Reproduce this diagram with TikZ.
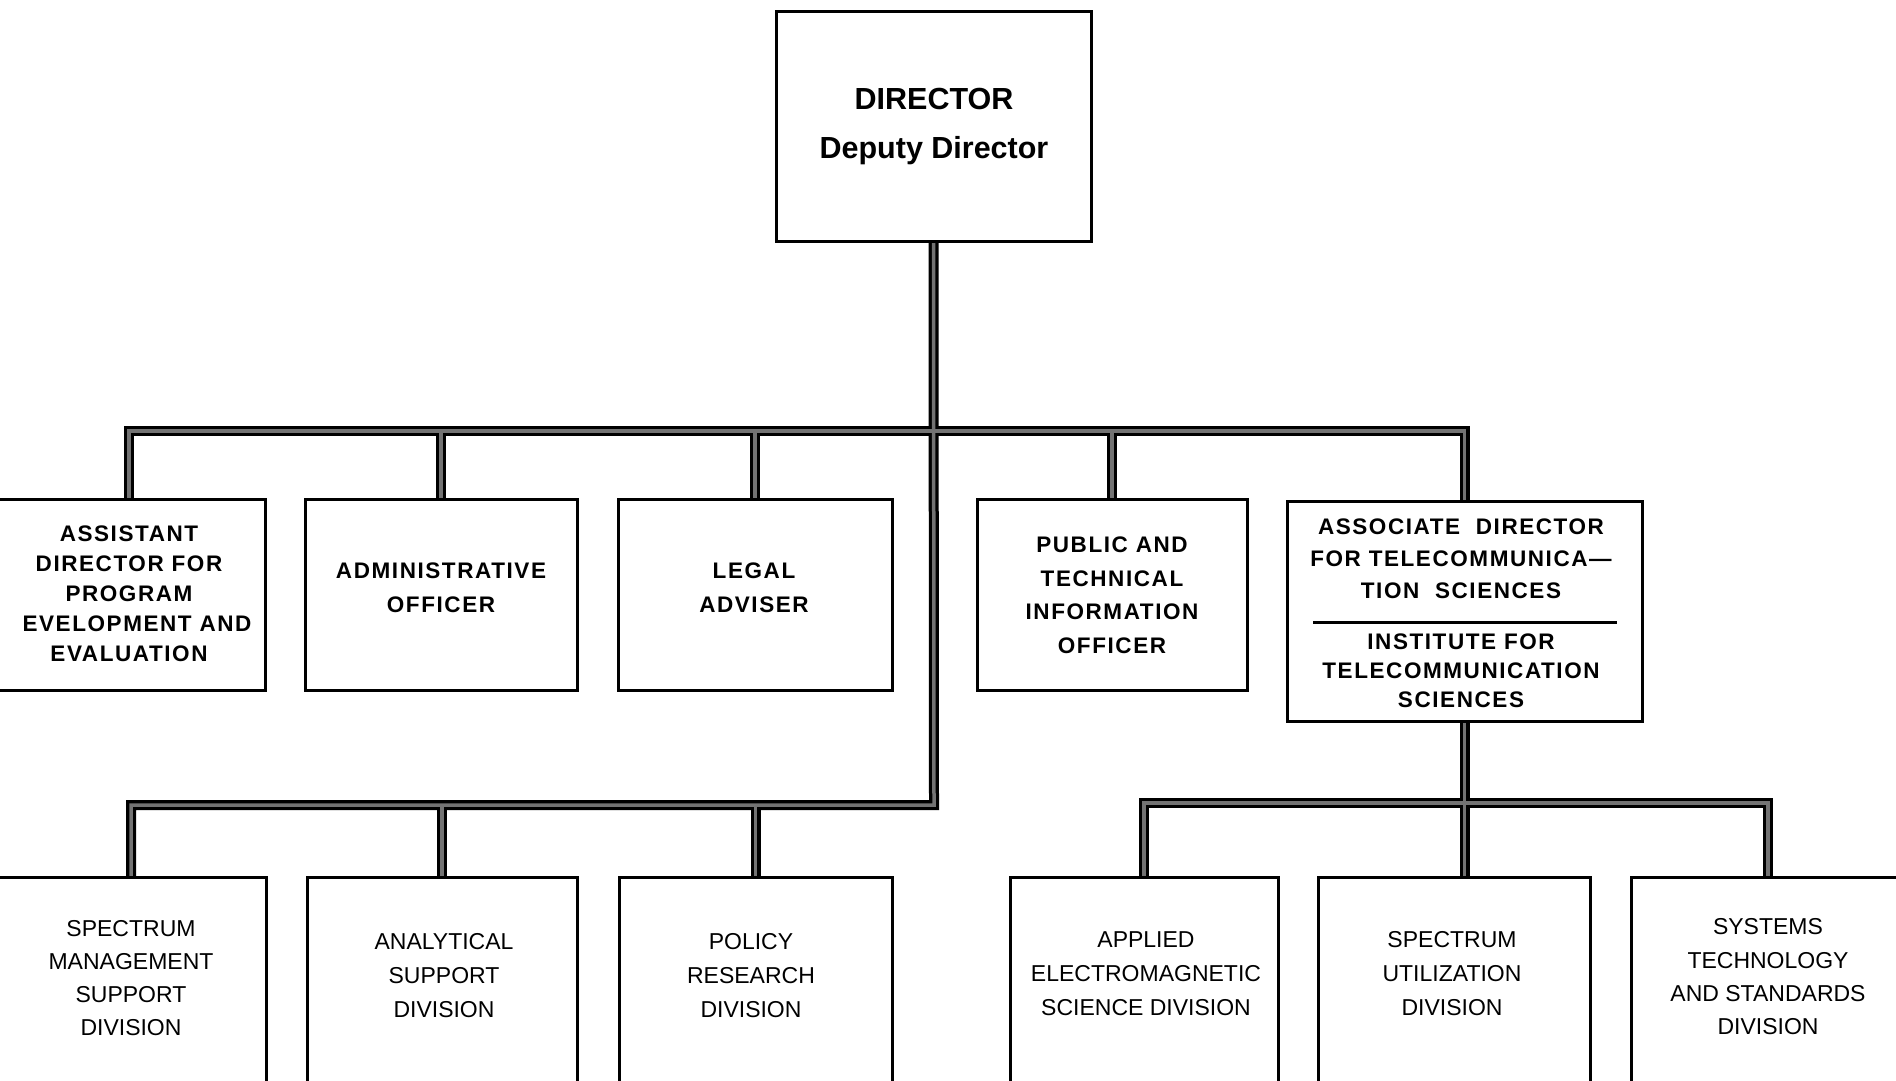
\documentclass[tikz,border=0pt]{standalone}
\usepackage{fontspec}
\setmainfont{Liberation Sans}
\newfontfamily\trackfont[LetterSpace=7]{Liberation Sans}
\usetikzlibrary{backgrounds,calc}

\tikzset{
  unit/.style={draw=black, line width=3pt, fill=white, inner sep=0pt, outer sep=0pt},
  headtext/.style={font=\bfseries\fontsize{30.5}{49}\selectfont, align=center, inner sep=0pt},
  officetext/.style={font=\trackfont\bfseries\fontsize{22.5}{#1}\selectfont, align=center, inner sep=0pt},
  officetext/.default=31,
  divtext/.style={font=\fontsize{23}{#1}\selectfont, align=center, inner sep=0pt},
  divtext/.default=33.5,
  linkouter/.style={line width=10pt, draw=black, line join=miter},
  linkinner/.style={line width=3.5pt, draw=black!55, line join=miter},
}

\begin{document}
\begin{tikzpicture}[x=1pt, y=-1pt]
\useasboundingbox (0,0) rectangle (1896,1081);

% director
\node[unit, minimum width=315pt, minimum height=229pt] (dir) at (933.5,126.5) {};
\node[headtext] (dirtxt) at (934,127) {DIRECTOR\\Deputy Director};

% staff offices
\node[unit, minimum width=272pt, minimum height=191pt] (asst) at (129,594.5) {};
\node[officetext=30] (assttxt) at (129,593.5) {ASSISTANT\\DIRECTOR FOR\\PROGRAM\\\hspace*{16pt}EVELOPMENT AND\\EVALUATION};

\node[unit, minimum width=272pt, minimum height=191pt] (adm) at (441,594.5) {};
\node[officetext=34] (admtxt) at (441,588) {ADMINISTRATIVE\\OFFICER};

\node[unit, minimum width=274pt, minimum height=191pt] (legal) at (755,594.5) {};
\node[officetext=34] (legaltxt) at (754,588) {LEGAL\\ADVISER};

\node[unit, minimum width=270pt, minimum height=191pt] (pub) at (1112,594.5) {};
\node[officetext=33.5] (pubtxt) at (1112,595) {PUBLIC AND\\TECHNICAL\\INFORMATION\\OFFICER};

\node[unit, minimum width=355pt, minimum height=220pt] (assoc) at (1464.5,611) {};
\node[officetext=32] (assoctop) at (1461,559) {ASSOCIATE\ \ DIRECTOR\\FOR TELECOMMUNICA—\\TION\ \ SCIENCES};
\node[officetext=29] (assocbot) at (1461,671) {INSTITUTE FOR\\TELECOMMUNICATION\\SCIENCES};
\draw[line width=3pt] ($(assoc.west |- 0,622)+(26,0)$) coordinate (sepl) -- ($(assoc.east |- 0,622)+(-25,0)$) coordinate (sepr);

% divisions
\node[unit, minimum width=270pt, minimum height=243pt] (smsd) at (131,998.5) {};
\node[divtext=33] (smsdtxt) at (131,978.5) {SPECTRUM\\MANAGEMENT\\SUPPORT\\DIVISION};

\node[unit, minimum width=270pt, minimum height=243pt] (asd) at (442,998.5) {};
\node[divtext=34] (asdtxt) at (444,976) {ANALYTICAL\\SUPPORT\\DIVISION};

\node[unit, minimum width=273pt, minimum height=243pt] (prd) at (755.5,998.5) {};
\node[divtext=34] (prdtxt) at (751,976) {POLICY\\RESEARCH\\DIVISION};

\node[unit, minimum width=268pt, minimum height=243pt] (aem) at (1144,998.5) {};
\node[divtext=34] (aemtxt) at (1146,974) {APPLIED\\ELECTROMAGNETIC\\SCIENCE DIVISION};

\node[unit, minimum width=272pt, minimum height=243pt] (sud) at (1454,998.5) {};
\node[divtext=34] (sudtxt) at (1452,974) {SPECTRUM\\UTILIZATION\\DIVISION};

\node[unit, minimum width=274pt, minimum height=243pt] (stsd) at (1768,998.5) {};
\node[divtext=33.3] (stsdtxt) at (1768,977) {SYSTEMS\\TECHNOLOGY\\AND STANDARDS\\DIVISION};

% bus levels
\coordinate (tb) at (934,431);
\coordinate (lb) at (934,805);
\coordinate (rb) at (1464.5,803);

% connectors, drawn behind the boxes as hollow bars
\begin{scope}[on background layer]
  \fill[white] (0,0) rectangle (1896,1081);
  \foreach \s in {linkouter,linkinner}{
    \draw[\s] (dir.south) -- (lb) -- (smsd.north |- lb) -- (smsd.north);
    \draw[\s] (asst.north) -- (asst.north |- tb) -- (assoc.north |- tb) -- (assoc.north);
    \draw[\s] (adm.north |- tb) -- (adm.north);
    \draw[\s] (legal.north |- tb) -- (legal.north);
    \draw[\s] (pub.north |- tb) -- (pub.north);
    \draw[\s] (asd.north |- lb) -- (asd.north);
    \draw[\s] (prd.north |- lb) -- (prd.north);
    \draw[\s] (assoc.south) -- (assoc.south |- sud.north);
    \draw[\s] (aem.north) -- (aem.north |- rb) -- (stsd.north |- rb) -- (stsd.north);
  }
\end{scope}
\end{tikzpicture}
\end{document}
